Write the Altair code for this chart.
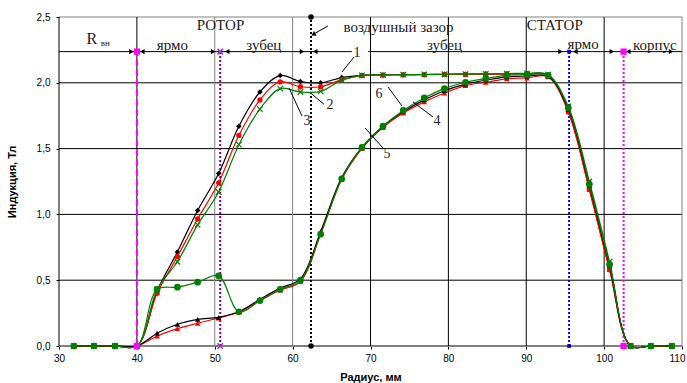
import altair as alt
import pandas as pd

# ---------------- data ----------------
radius = [31.9, 34.5, 37.2, 40.0, 42.6, 45.2, 47.8, 50.5, 53.1, 55.8, 58.4, 61.0,
          63.6, 66.3, 68.9, 71.6, 74.2, 76.9, 79.5, 82.2, 84.8, 87.5, 90.1, 92.8,
          95.4, 98.1, 100.7, 103.4, 106.0, 108.7]

s1_black_upper = [0, 0, 0, 0, 0.42, 0.715, 1.03, 1.31, 1.67, 1.93, 2.055, 2.01,
                  2.0, 2.04, 2.057, 2.06, 2.062, 2.063, 2.065, 2.066, 2.068, 2.069, 2.07, 2.06,
                  1.80, 1.22, 0.61, 0, 0, 0]
s2_red_upper = [0, 0, 0, 0, 0.40, 0.68, 0.965, 1.24, 1.60, 1.87, 2.007, 1.97,
                1.97, 2.024, 2.055, 2.058, 2.06, 2.061, 2.063, 2.064, 2.066, 2.067, 2.068, 2.058,
                1.78, 1.19, 0.58, 0, 0, 0]
s3_green_upper = [0, 0, 0, 0, 0.43, 0.64, 0.92, 1.17, 1.53, 1.80, 1.956, 1.93,
                  1.935, 2.02, 2.057, 2.06, 2.062, 2.064, 2.065, 2.066, 2.068, 2.07, 2.072, 2.062,
                  1.82, 1.25, 0.64, 0, 0, 0]
s4_red_lower = [0, 0, 0, 0, 0.076, 0.132, 0.173, 0.213, 0.258, 0.345, 0.425, 0.49,
                0.85, 1.265, 1.50, 1.66, 1.77, 1.855, 1.923, 1.979, 2.004, 2.03, 2.037, 2.045,
                1.78, 1.19, 0.58, 0, 0, 0]
s5_black_lower = [0, 0, 0, 0, 0.097, 0.165, 0.203, 0.218, 0.262, 0.355, 0.44, 0.51,
                  0.87, 1.28, 1.51, 1.67, 1.78, 1.87, 1.94, 1.99, 2.02, 2.045, 2.05, 2.05,
                  1.80, 1.22, 0.61, 0, 0, 0]
s6_green_lower = [0, 0, 0, 0, 0.43, 0.447, 0.485, 0.533, 0.26, 0.345, 0.43, 0.50,
                  0.85, 1.27, 1.51, 1.67, 1.79, 1.885, 1.956, 2.004, 2.032, 2.057, 2.062, 2.057,
                  1.81, 1.23, 0.62, 0, 0, 0]

x_ticks = [30, 40, 50, 60, 70, 80, 90, 100, 110]
y_ticks = [0.0, 0.5, 1.0, 1.5, 2.0, 2.5]

# zone boundaries (radius, mm)
boundaries = [40.0, 50.7, 62.36, 95.5, 102.5]
zone_level = 2.237

# text annotations
zone_labels = ["РОТОР", "СТАТОР", "воздушный зазор", "ярмо", "зубец", "зубец", "ярмо", "корпус"]
zone_label_x = [50.74, 93.65, 73.6, 44.55, 56.3, 79.5, 97.3, 106.5]
zone_label_y = [2.439, 2.439, 2.424, 2.287, 2.287, 2.287, 2.295, 2.287]

num_labels = ["1", "2", "3", "4", "5", "6"]
num_x = [68.27, 64.8, 61.85, 78.54, 72.12, 71.09]
num_y = [2.226, 1.832, 1.71, 1.71, 1.459, 1.915]
leader_x1 = [67.88, 62.36, 59.54, 75.46, 69.29, 72.25]
leader_y1 = [2.196, 1.920, 1.960, 1.854, 1.657, 1.968]
leader_x2 = [66.34, 64.03, 61.20, 78.03, 71.60, 74.04]
leader_y2 = [2.082, 1.836, 1.748, 1.740, 1.505, 1.824]

# ---------------- helpers ----------------
xscale = alt.Scale(domain=[30, 110], nice=False, zero=False)
yscale = alt.Scale(domain=[0, 2.5], nice=False, zero=False)

xaxis = alt.Axis(values=x_ticks, format="d", grid=False, domain=False, labelFlush=False,
                 labelOffset={"condition": {"test": "datum.value == 110", "value": -5},
                              "value": 0},
                 tickColor="#000000", tickSize=3, labelFont="Liberation Sans",
                 labelFontSize=10, labelColor="#000000", labelPadding=4,
                 title="Радиус, мм", titleFont="Liberation Sans", titleFontSize=11,
                 titleFontWeight="bold", titleColor="#000000", titleY=31,
                 titleBaseline="middle")
yaxis = alt.Axis(values=y_ticks, labelExpr="replace(format(datum.value, '.1f'), '.', ',')",
                 grid=False, domain=False, tickColor="#000000", tickSize=3,
                 labelFont="Liberation Sans", labelFontSize=10, labelColor="#000000",
                 labelPadding=6, title="Индукция, Тл", titleFont="Liberation Sans",
                 titleFontSize=11, titleFontWeight="bold", titleColor="#000000",
                 titleX=-47, titleY=164.5, titleAngle=270, titleAlign="center",
                 titleBaseline="middle")


def X(f):
    return alt.X(f, type="quantitative", scale=xscale, axis=xaxis)


def Y(f):
    return alt.Y(f, type="quantitative", scale=yscale, axis=yaxis)


layers = []

# grid lines
hgrid_colors = ["#808080", "#000000", "#000000", "#000000", "#000000", "#808080"]
hgrid_widths = [2, 1, 1, 1, 1, 1]
hg = pd.DataFrame({"y": y_ticks, "c": hgrid_colors, "w": hgrid_widths, "x0": 30, "x1": 110})
layers.append(alt.Chart(hg).mark_rule().encode(
    x=X("x0"), x2="x1", y=Y("y"),
    color=alt.Color("c:N", scale=None), strokeWidth=alt.StrokeWidth("w:Q", scale=None)))

vgrid_colors = ["#000000", "#000000", "#808080", "#808080", "#000000", "#000000",
                "#000000", "#000000", "#808080"]
vg = pd.DataFrame({"x": x_ticks, "c": vgrid_colors, "y0": 0.0, "y1": 2.5})
layers.append(alt.Chart(vg).mark_rule(strokeWidth=1).encode(
    x=X("x"), y=Y("y0"), y2="y1", color=alt.Color("c:N", scale=None)))

# zone boundary lines
b_colors = ["#FF00FF", "#800080", "#000000", "#0000FF", "#FF00FF"]
b_dash = [[7, 3], [2, 2], [2, 2], [2, 2], [2, 2]]
b_top = [zone_level, zone_level, 2.5, zone_level, zone_level]
for bx, bc, bd, bt in zip(boundaries, b_colors, b_dash, b_top):
    d = pd.DataFrame({"x": [bx], "y0": [0.0], "y1": [bt]})
    layers.append(alt.Chart(d).mark_rule(color=bc, strokeDash=bd, strokeWidth=2).encode(
        x=X("x"), y=Y("y0"), y2="y1"))

# horizontal zone line (interrupted by label "1")
seg = pd.DataFrame({"x0": [30, 69.7], "x1": [67.6, 110], "y": [zone_level, zone_level]})
layers.append(alt.Chart(seg).mark_rule(color="#000000", strokeWidth=1).encode(
    x=X("x0"), x2="x1", y=Y("y")))

# arrow heads on the zone line
ar_right = [39.3, 49.8, 61.2, 94.4, 101.0, 108.6]
ar_left = [40.7, 51.6, 62.9, 96.3, 103.1]
layers.append(alt.Chart(pd.DataFrame({"x": ar_right, "y": zone_level})).mark_point(
    shape="triangle-right", filled=True, color="#000000", size=28, opacity=1).encode(
    x=X("x"), y=Y("y")))
layers.append(alt.Chart(pd.DataFrame({"x": ar_left, "y": zone_level})).mark_point(
    shape="triangle-left", filled=True, color="#000000", size=28, opacity=1).encode(
    x=X("x"), y=Y("y")))

# curves
X_SHAPE = "M-1,-1L1,1M-1,1L1,-1"
series = [
    (s1_black_upper, "#000000", "diamond", True, 30),
    (s2_red_upper, "#FF0000", "circle", True, 28),
    (s3_green_upper, "#008000", X_SHAPE, False, 30),
    (s4_red_lower, "#FF0000", "triangle-up", True, 32),
    (s5_black_lower, "#000000", "triangle-up", True, 30),
    (s6_green_lower, "#008000", "circle", True, 45),
]
for vals, col, shp, filled, sz in series:
    d = pd.DataFrame({"r": radius, "b": vals})
    base = alt.Chart(d)
    layers.append(base.mark_line(color=col, strokeWidth=1.2, interpolate="catmull-rom").encode(
        x=X("r"), y=Y("b")))
    layers.append(base.mark_point(shape=shp, filled=filled, color=col, size=sz,
                                  opacity=1, strokeWidth=1.2).encode(x=X("r"), y=Y("b")))

# markers at the ends of the boundary lines
mk = [
    (40.0, "square", "#FF00FF", True, 40),
    (50.7, X_SHAPE, "#9933CC", False, 30),
    (62.36, "circle", "#000000", True, 30),
    (95.5, "square", "#0000CC", True, 14),
    (102.5, "square", "#FF00FF", True, 40),
]
for bx, shp, col, filled, sz in mk:
    top = 2.5 if bx == 62.36 else zone_level
    d = pd.DataFrame({"x": [bx, bx], "y": [0.0, top]})
    layers.append(alt.Chart(d).mark_point(shape=shp, filled=filled, color=col, size=sz,
                                          opacity=1, strokeWidth=1.5).encode(
        x=X("x"), y=Y("y")))

# leader lines
ld = pd.DataFrame({"x1": leader_x1, "y1": leader_y1, "x2": leader_x2, "y2": leader_y2})
layers.append(alt.Chart(ld).mark_rule(color="#000000", strokeWidth=1).encode(
    x=X("x1"), y=Y("y1"), x2="x2", y2="y2"))

# air gap arrow
ag = pd.DataFrame({"x1": [64.54], "y1": [2.432], "x2": [62.75], "y2": [2.372]})
layers.append(alt.Chart(ag).mark_rule(color="#000000", strokeWidth=1).encode(
    x=X("x1"), y=Y("y1"), x2="x2", y2="y2"))
layers.append(alt.Chart(pd.DataFrame({"x": [62.65], "y": [2.368]})).mark_point(
    shape="triangle-left", filled=True, color="#000000", size=28, angle=332, opacity=1).encode(
    x=X("x"), y=Y("y")))

# texts
tz = pd.DataFrame({"t": zone_labels, "x": zone_label_x, "y": zone_label_y})
layers.append(alt.Chart(tz).mark_text(font="Liberation Serif", fontSize=15, color="#1a1a1a",
                                      align="center", baseline="middle").encode(
    x=X("x"), y=Y("y"), text="t:N"))

tn = pd.DataFrame({"t": num_labels, "x": num_x, "y": num_y})
layers.append(alt.Chart(tn).mark_text(font="Liberation Serif", fontSize=14, color="#1a1a1a",
                                      align="center", baseline="middle").encode(
    x=X("x"), y=Y("y"), text="t:N"))

layers.append(alt.Chart(pd.DataFrame({"t": ["R"], "x": [34.2], "y": [2.333]})).mark_text(
    font="Liberation Serif", fontSize=16, color="#1a1a1a", align="center",
    baseline="middle").encode(x=X("x"), y=Y("y"), text="t:N"))
layers.append(alt.Chart(pd.DataFrame({"t": ["вн"], "x": [35.95], "y": [2.305]})).mark_text(
    font="Liberation Serif", fontSize=9, color="#1a1a1a", align="center",
    baseline="middle").encode(x=X("x"), y=Y("y"), text="t:N"))

chart = alt.layer(*layers).properties(
    width=623, height=329,
    autosize=alt.AutoSizeParams(type="none"),
    padding={"left": 59, "top": 17, "right": 5, "bottom": 37},
    background="#FFFFFF",
).configure_view(stroke=None)

chart.save("out.html", embed_options={"renderer": "svg", "actions": False})
